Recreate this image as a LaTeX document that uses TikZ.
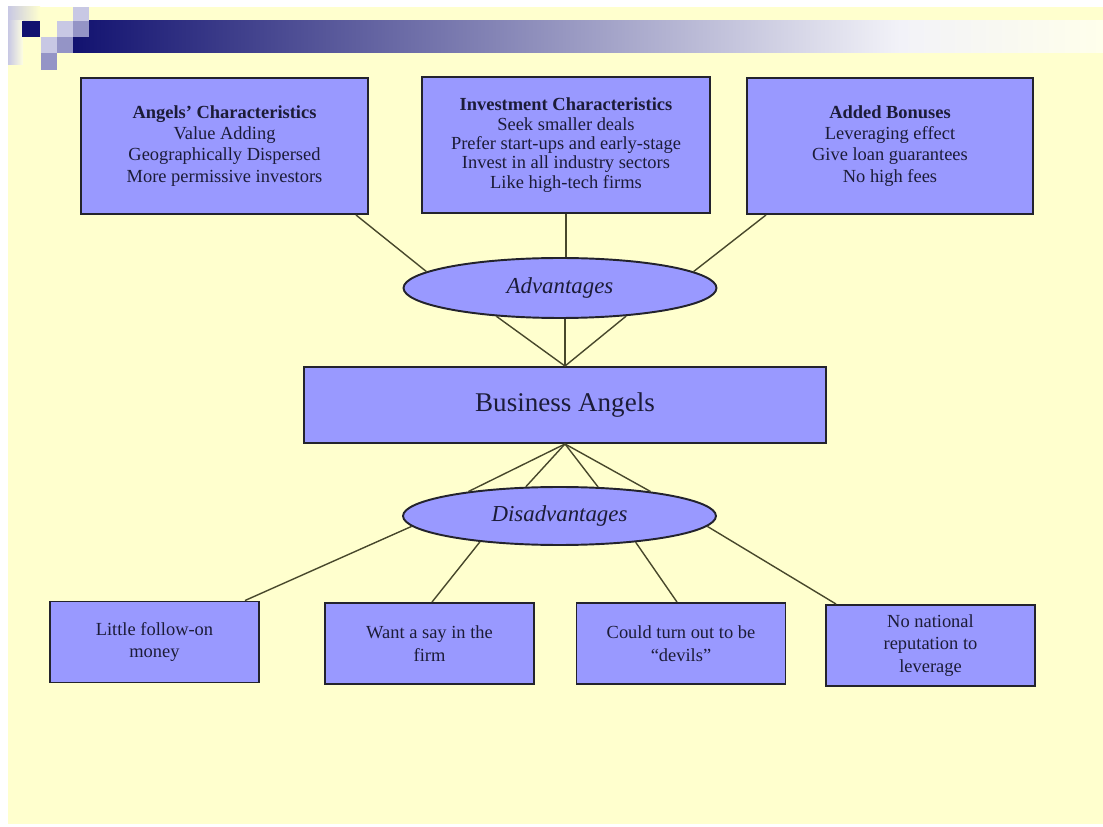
\documentclass[tikz,border=0pt]{standalone}
\usepackage{fontspec}
\setmainfont{Liberation Serif}
\usetikzlibrary{shapes.geometric}

\definecolor{paper}{RGB}{255,255,206}
\definecolor{boxblue}{RGB}{153,153,255}
\definecolor{ink}{RGB}{28,28,56}
\definecolor{edge}{RGB}{35,35,45}
\definecolor{linkcol}{RGB}{72,72,44}
\definecolor{barnavy}{RGB}{18,18,112}
\definecolor{barend}{RGB}{242,242,248}
\definecolor{lav}{RGB}{200,200,228}
\definecolor{midlav}{RGB}{148,148,198}

\begin{document}
\begin{tikzpicture}[x=0.02cm, y=-0.02cm]
    \tikzstyle{block} = [rectangle, draw=edge, fill=boxblue, line width=1.1pt, text=ink,
        align=center, minimum width=5.74cm, minimum height=2.72cm, font=\fontsize{10.5}{12}\selectfont]
    \tikzstyle{small} = [block, minimum width=4.18cm, minimum height=1.62cm,
        font=\fontsize{10.5}{13}\selectfont]
    \tikzstyle{hub} = [ellipse, draw=edge, fill=boxblue, line width=1.1pt, text=ink,
        minimum width=6.26cm, minimum height=1.2cm, inner sep=0pt, font=\fontsize{13}{15}\selectfont\itshape]
    \tikzstyle{line} = [draw=linkcol, line width=0.8pt]

    % slide background and title bar
    \useasboundingbox (0,0) rectangle (1103,827);
    \fill[white] (0,0) rectangle (1103,827);
    \fill[paper] (8,7) rectangle (1103,824);
    \shade[left color=lav, right color=paper] (8,7) rectangle (40,21);
    \shade[left color=lav, right color=paper!60!white] (8,21) rectangle (23,65);
    \shade[left color=barnavy, right color=barend] (73,21) rectangle (900,53);
    \shade[left color=barend, right color=paper!40!white] (900,21) rectangle (1103,53);
    \fill[barnavy] (22,21) rectangle (40,37);
    \fill[lav] (57,21) rectangle (73,37);
    \fill[lav] (73,7) rectangle (89,21);
    \fill[midlav] (73,21) rectangle (89,37);
    \fill[lav] (41,37) rectangle (57,53);
    \fill[midlav] (57,37) rectangle (73,53);
    \fill[midlav] (41,53) rectangle (57,70);

    \node [block] (angelchar) at (224.5,146)
        {\textbf{Angels' Characteristics}\\Value Adding\\Geographically Dispersed\\More permissive investors};
    \node [block, minimum width=5.76cm, font=\fontsize{10.5}{11}\selectfont] (investchar) at (566,145)
        {\textbf{Investment Characteristics}\\Seek smaller deals\\Prefer start-ups and early-stage\\Invest in all industry sectors\\Like high-tech firms};
    \node [block, minimum width=5.72cm] (bonuses) at (890,146)
        {\textbf{Added Bonuses}\\Leveraging effect\\Give loan guarantees\\No high fees};
    \node [hub] (adv) at (560,288) {Advantages};
    \node [block, minimum width=10.44cm, minimum height=1.52cm, font=\fontsize{15.4}{18}\selectfont] (angels) at (565,405) {Business Angels};
    \node [hub, minimum height=1.16cm] (disadv) at (559.5,516) {Disadvantages};
    \node [small] (followon) at (154.5,642) {Little follow-on\\money};
    \node [small] (say) at (429.5,643.5) {Want a say in the\\firm};
    \node [small] (devils) at (681,643.5) {Could turn out to be\\``devils''};
    \node [small] (reputation) at (930.5,645.5) {No national\\reputation to\\leverage};

    \path [line] ([xshift=-0.26cm]angelchar.south east) -- (adv.173);
    \path [line] (investchar.south) -- (investchar.south |- adv.north);
    \path [line] ([xshift=0.4cm]bonuses.south west) -- (adv.7);
    \path [line] (adv.204) -- (angels.north);
    \path [line] (angels.north |- adv.south) -- (angels.north);
    \path [line] (adv.337) -- (angels.north);
    \path [line] (angels.south) -- (disadv.165);
    \path [line] (angels.south) -- (disadv.139);
    \path [line] (angels.south) -- (disadv.37);
    \path [line] (angels.south) -- (disadv.15);
    \path [line] (disadv.184) -- ([xshift=-0.3cm]followon.north east);
    \path [line] (disadv.198) -- ([xshift=0.05cm]say.north);
    \path [line] (disadv.341) -- ([xshift=-0.08cm]devils.north);
    \path [line] (disadv.356) -- ([xshift=0.22cm]reputation.north west);
\end{tikzpicture}
\end{document}
